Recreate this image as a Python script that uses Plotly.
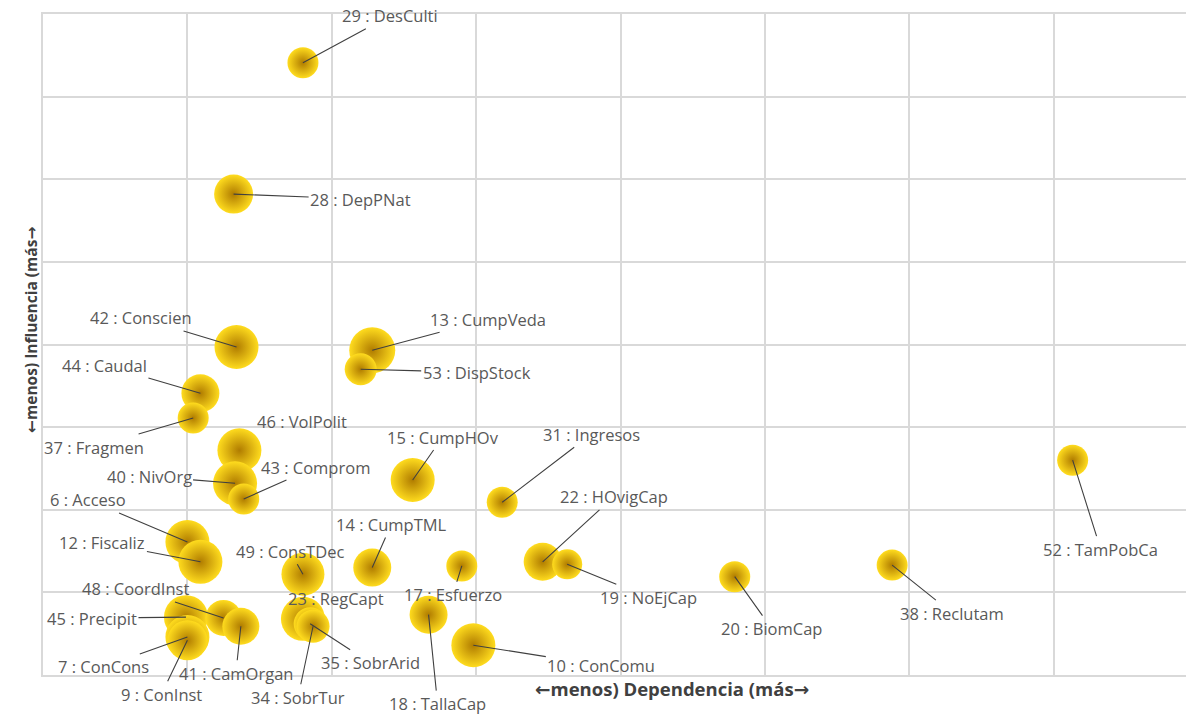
import plotly.graph_objects as go

# ---- data (grid units) ----
ids = [29, 28, 42, 13, 53, 44, 37, 46, 40, 43, 15, 31, 6, 12, 49, 14, 17, 22, 19,
       20, 38, 52, 45, 48, 41, 7, 9, 23, 35, 34, 18, 10]
names = ["DesCulti", "DepPNat", "Conscien", "CumpVeda", "DispStock", "Caudal", "Fragmen",
         "VolPolit", "NivOrg", "Comprom", "CumpHOv", "Ingresos", "Acceso", "Fiscaliz",
         "ConsTDec", "CumpTML", "Esfuerzo", "HOvigCap", "NoEjCap", "BiomCap", "Reclutam",
         "TamPobCa", "Precipit", "CoordInst", "CamOrgan", "ConCons", "ConInst", "RegCapt",
         "SobrArid", "SobrTur", "TallaCap", "ConComu"]
dependencia = [1.80, 1.32, 1.34, 2.28, 2.20, 1.09, 1.04, 1.36, 1.33, 1.39, 2.56, 3.18, 1.00, 1.09,
               1.80, 2.28, 2.90, 3.46, 3.63, 4.79, 5.88, 7.13, 0.99, 1.25, 1.37, 1.00, 1.00, 1.80,
               1.85, 1.87, 2.67, 2.98]
influencia = [7.41, 5.82, 3.97, 3.93, 3.70, 3.41, 3.11, 2.72, 2.32, 2.13, 2.36, 2.09, 1.61, 1.37,
              1.22, 1.30, 1.32, 1.37, 1.34, 1.19, 1.33, 2.60, 0.70, 0.69, 0.59, 0.46, 0.42, 0.68,
              0.62, 0.59, 0.73, 0.36]
peso = [3.1, 3.9, 4.4, 4.6, 3.2, 3.8, 3.1, 4.4, 4.4, 3.1, 4.4, 3.1, 4.4, 4.4, 4.3, 3.8, 3.1,
        3.8, 3.0, 3.1, 3.1, 3.1, 4.4, 3.6, 3.7, 4.4, 4.0, 4.4, 3.3, 3.3, 3.8, 4.4]

ARW = "<span style=\"font-family:'DejaVu Sans'\">{}</span>"
x_title = ARW.format("←") + "menos) Dependencia (más" + ARW.format("→")
y_title = ARW.format("←") + "menos) Influencia (más" + ARW.format("→")

# ---- label placement (pixel offsets of the label from its bubble) ----
label_offsets = {
    29: (87, -47, True), 28: (127, 5, True), 42: (-96, -29, True), 13: (116, -31, True),
    53: (116, 3, True), 44: (-96, -28, True), 37: (-99, 29, True), 46: (63, -29, False),
    40: (-86, -7, True), 43: (72, -32, True), 15: (30, -43, True), 31: (89, -68, True),
    6: (-99, -42, True), 12: (-98, -19, True), 49: (-13, -23, True), 14: (19, -43, True),
    17: (-9, 29, True), 22: (71, -65, True), 19: (81, 33, True), 20: (37, 52, True),
    38: (60, 48, True), 52: (28, 89, True), 45: (-94, 1, True), 48: (-88, -29, True),
    41: (-5, 47, True), 7: (-84, 30, True), 9: (-26, 54, True), 23: (33, -20, False),
    35: (60, 39, True), 34: (-15, 71, True), 18: (9, 89, True), 10: (128, 20, True),
}

FONT = "Open Sans"
LBL = dict(family=FONT, size=16.5, color="#595959")
fig = go.Figure()
fig.add_trace(go.Scatter(
    x=dependencia, y=influencia, mode="markers",
    text=[f"{i} : {n}" for i, n in zip(ids, names)],
    hoverinfo="text",
    marker=dict(size=peso, sizemode="diameter", sizeref=0.1,
                color="#FFDC1E",
                gradient=dict(type="radial", color="#B07C00"),
                line=dict(width=0), opacity=1),
    cliponaxis=False, showlegend=False,
))

annotations = []
for i, n, xv, yv in zip(ids, names, dependencia, influencia):
    ax, ay, arrow = label_offsets[i]
    if arrow:
        annotations.append(dict(
            x=xv, y=yv, xref="x", yref="y", text=f"{i} : {n}", showarrow=True,
            ax=ax, ay=ay, axref="pixel", ayref="pixel", arrowhead=0, arrowwidth=1.1,
            arrowcolor="#404040", standoff=0, startstandoff=0, font=LBL))
    else:
        annotations.append(dict(
            x=xv, y=yv, xref="x", yref="y", text=f"{i} : {n}", showarrow=False,
            xshift=ax, yshift=-ay, font=LBL))

annotations.append(dict(
    x=0.55, y=0, xref="paper", yref="paper", yshift=-28, showarrow=False,
    text=f"<b>{x_title}</b>", font=dict(family=FONT, size=18.5, color="#404040")))
annotations.append(dict(
    x=0, y=0.522, xref="paper", yref="paper", xshift=-25, showarrow=False, textangle=-90,
    text=f"<b>{y_title}</b>", font=dict(family=FONT, size=15.5, color="#404040")))

fig.update_layout(
    width=1186, height=717,
    margin=dict(l=43, r=0, t=14, b=42),
    paper_bgcolor="white", plot_bgcolor="white",
    annotations=annotations,
    xaxis=dict(range=[0, 7.915], dtick=1, tick0=0, showticklabels=False, ticks="",
               showgrid=True, gridcolor="#D9D9D9", gridwidth=1.6, zeroline=False,
               showline=True, linecolor="#D9D9D9", linewidth=1.6, mirror=True),
    yaxis=dict(range=[0, 8], dtick=1, tick0=0, showticklabels=False, ticks="",
               showgrid=True, gridcolor="#D9D9D9", gridwidth=1.6, zeroline=False,
               showline=True, linecolor="#D9D9D9", linewidth=1.6),
)

# remove the default page margin so the figure fills the window exactly
fig.write_html("out.html", config={"displayModeBar": False},
               post_script="document.body.style.margin='0';document.body.style.overflow='hidden';")
